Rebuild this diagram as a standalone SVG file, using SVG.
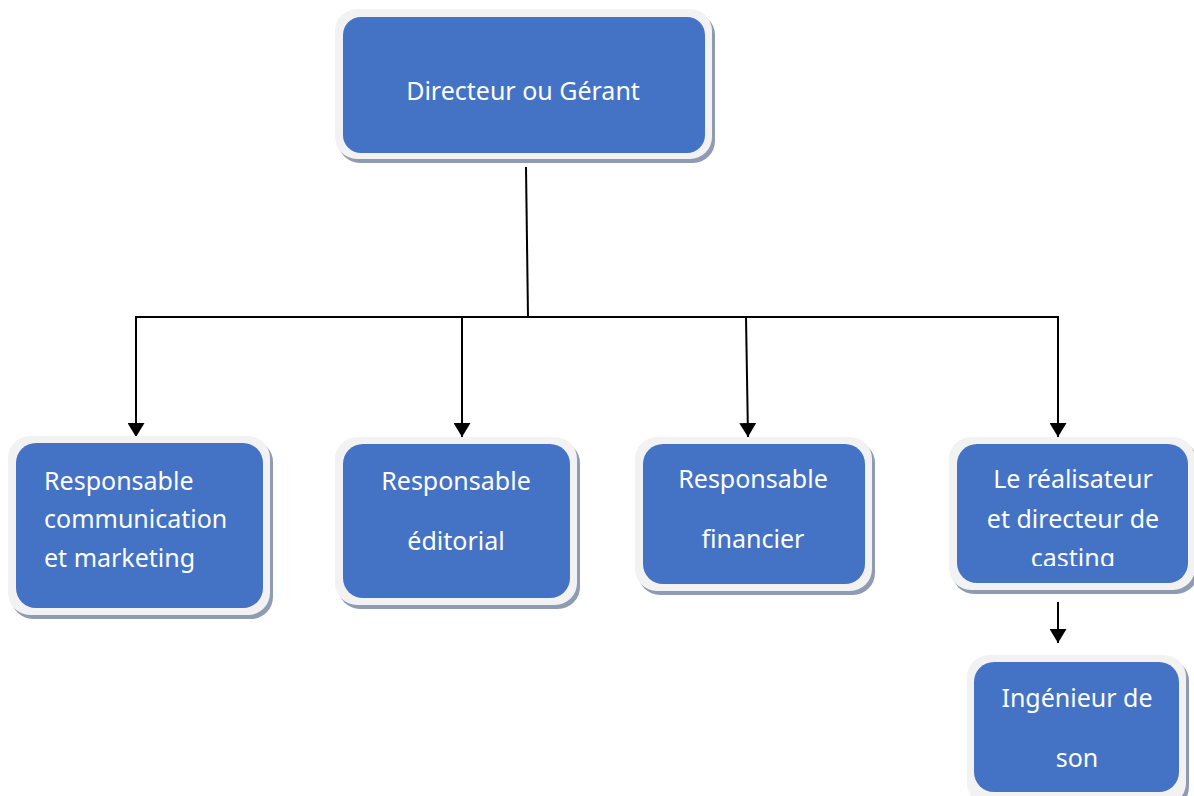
<svg xmlns="http://www.w3.org/2000/svg" width="1194" height="796" viewBox="0 0 1194 796">
<defs>
<style>
.sh{fill:#8e9bb2}
.bd{fill:#f2f2f2}
.bl{fill:#4472c4}
.t{font-family:"Noto Sans","Open Sans",sans-serif;font-size:25px;fill:#ffffff}
.c{text-anchor:middle}
.ln{stroke:#000;stroke-width:2;fill:none}
</style>
<marker id="ah" markerWidth="7" markerHeight="8.5" refX="7" refY="4.25" orient="auto" markerUnits="strokeWidth">
<path d="M0,0 L7,4.25 L0,8.5 Z" fill="#000"/>
</marker>
<clipPath id="clip4"><rect x="949" y="437" width="245" height="129"/></clipPath>
</defs>
<rect width="1194" height="796" fill="#fff"/>
<g id="connectors">
<line class="ln" x1="526" y1="167" x2="528" y2="317"/>
<line class="ln" x1="135" y1="317" x2="1059" y2="317"/>
<line class="ln" x1="136" y1="317" x2="136" y2="437" marker-end="url(#ah)"/>
<line class="ln" x1="462" y1="317" x2="462" y2="437" marker-end="url(#ah)"/>
<line class="ln" x1="746" y1="317" x2="748" y2="437" marker-end="url(#ah)"/>
<line class="ln" x1="1058" y1="317" x2="1058" y2="437" marker-end="url(#ah)"/>
<line class="ln" x1="1058" y1="602" x2="1058" y2="643" marker-end="url(#ah)"/>
</g>
<g id="node-directeur">
<rect class="sh" x="338" y="13" width="377" height="150" rx="22"/>
<rect class="bd" x="335" y="9" width="377" height="150" rx="22"/>
<rect class="bl" x="343" y="17" width="362" height="136" rx="18"/>
<text class="t c" x="523" y="100">Directeur ou Gérant</text>
</g>
<g id="node-communication">
<rect class="sh" x="11" y="440" width="262" height="179" rx="22"/>
<rect class="bd" x="8" y="436" width="262" height="179" rx="22"/>
<rect class="bl" x="16" y="443" width="247" height="165" rx="20"/>
<text class="t" x="44" y="490">Responsable</text>
<text class="t" x="44" y="528">communication</text>
<text class="t" x="44" y="567">et marketing</text>
</g>
<g id="node-editorial">
<rect class="sh" x="338" y="441" width="242" height="168" rx="22"/>
<rect class="bd" x="335" y="437" width="242" height="168" rx="22"/>
<rect class="bl" x="343" y="444" width="227" height="154" rx="20"/>
<text class="t c" x="456" y="490">Responsable</text>
<text class="t c" x="456" y="550">éditorial</text>
</g>
<g id="node-financier">
<rect class="sh" x="638" y="441" width="237" height="154" rx="22"/>
<rect class="bd" x="635" y="437" width="237" height="154" rx="22"/>
<rect class="bl" x="643" y="444" width="222" height="140" rx="20"/>
<text class="t c" x="753" y="488">Responsable</text>
<text class="t c" x="753" y="548">financier</text>
</g>
<g id="node-realisateur">
<rect class="sh" x="952" y="441" width="246" height="153" rx="22"/>
<rect class="bd" x="949" y="437" width="246" height="153" rx="22"/>
<rect class="bl" x="957" y="444" width="231" height="139" rx="20"/>
<g clip-path="url(#clip4)">
<text class="t c" x="1073" y="488">Le réalisateur</text>
<text class="t c" x="1073" y="528">et directeur de</text>
<text class="t c" x="1073" y="567">casting</text>
</g>
</g>
<g id="node-ingenieur">
<rect class="sh" x="970" y="659" width="219" height="150" rx="22"/>
<rect class="bd" x="967" y="655" width="219" height="150" rx="22"/>
<rect class="bl" x="974" y="662" width="205" height="130" rx="20"/>
<text class="t c" x="1077" y="707">Ingénieur de</text>
<text class="t c" x="1077" y="767">son</text>
</g>
</svg>
